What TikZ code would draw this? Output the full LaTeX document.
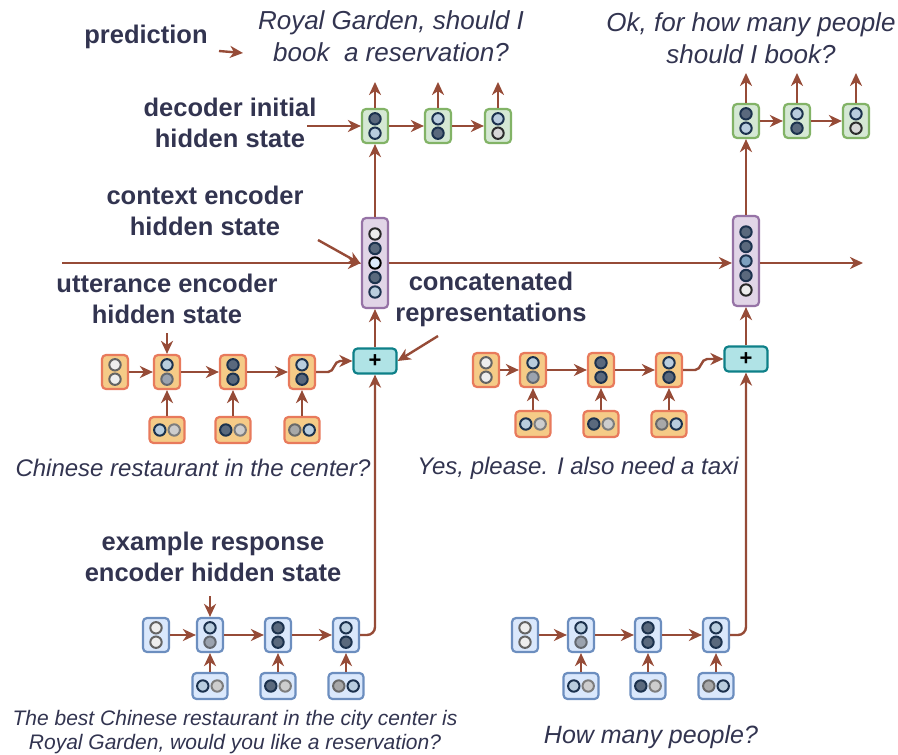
\documentclass[tikz,border=0pt]{standalone}
\usepackage{fontspec}
\setmainfont{Liberation Sans}
\usetikzlibrary{arrows.meta}

\definecolor{txt}{RGB}{50,52,80}
\definecolor{arrc}{RGB}{150,75,55}
\definecolor{gfill}{RGB}{213,232,212}\definecolor{gdraw}{RGB}{130,179,102}
\definecolor{ofill}{RGB}{245,203,135}\definecolor{odraw}{RGB}{232,122,92}
\definecolor{bfill}{RGB}{218,232,252}\definecolor{bdraw}{RGB}{108,142,191}
\definecolor{pfill}{RGB}{225,213,231}\definecolor{pdraw}{RGB}{150,115,166}
\definecolor{tfill}{RGB}{176,227,230}\definecolor{tdraw}{RGB}{14,128,136}
\definecolor{navy}{RGB}{28,50,78}

\tikzset{
  cellbase/.style={draw, line width=2.2pt, rounded corners=4pt, inner sep=0pt},
  vc/.style={cellbase, minimum width=26pt, minimum height=34pt},
  hc/.style={cellbase, minimum width=35pt, minimum height=26pt},
  green/.style={fill=gfill, draw=gdraw},
  orange/.style={fill=ofill, draw=odraw},
  blue/.style={fill=bfill, draw=bdraw},
  ctxbox/.style={cellbase, fill=pfill, draw=pdraw, minimum width=26pt, minimum height=90pt},
  plusbox/.style={cellbase, fill=tfill, draw=tdraw, minimum width=43pt, minimum height=25pt,
    font=\fontsize{22}{22}\selectfont\bfseries},
  arr/.style={draw=arrc, line width=2.4pt, -{Stealth[length=13pt,width=12pt,inset=4pt]}},
  lbl/.style={text=txt, align=center, font=\fontsize{25.5}{31}\selectfont\bfseries},
  utt/.style={text=txt, align=center, font=\fontsize{24}{32}\selectfont\itshape},
  unit/.style={line width=2pt},
  % unit colours
  dk/.style={unit, fill={rgb,255:red,90;green,105;blue,125}, draw=navy},
  lb/.style={unit, fill={rgb,255:red,185;green,205;blue,222}, draw=navy},
  md/.style={unit, fill={rgb,255:red,125;green,160;blue,190}, draw=navy},
  gy/.style={unit, fill={rgb,255:red,155;green,163;blue,175}, draw={rgb,255:red,100;green,105;blue,112}},
  gm/.style={unit, fill={rgb,255:red,168;green,168;blue,168}, draw={rgb,255:red,105;green,105;blue,105}},
  wt/.style={unit, fill={rgb,255:red,238;green,238;blue,238}, draw={rgb,255:red,100;green,100;blue,100}},
  lg/.style={unit, fill={rgb,255:red,205;green,205;blue,205}, draw={rgb,255:red,125;green,125;blue,125}},
  wk/.style={unit, fill={rgb,255:red,236;green,236;blue,236}, draw={rgb,255:red,40;green,40;blue,40}},
  gk/.style={unit, fill={rgb,255:red,215;green,215;blue,215}, draw={rgb,255:red,45;green,45;blue,45}},
  pl/.style={unit, fill={rgb,255:red,220;green,234;blue,250}, draw=black},
}

% vertical two-unit cell: name, x, y, cell colour, top unit, bottom unit
\newcommand\vcell[6]{%
  \node[vc,#4] (#1) at (#2,#3) {};
  \draw[#5] ([yshift=7.2pt]#1.center) circle[radius=5.7pt];
  \draw[#6] ([yshift=-7.2pt]#1.center) circle[radius=5.7pt];
}
% horizontal two-unit cell (word input): name, x, y, cell colour, left unit, right unit
\newcommand\hcell[6]{%
  \node[hc,#4] (#1) at (#2,#3) {};
  \draw[#5] ([xshift=-7.2pt]#1.center) circle[radius=5.7pt];
  \draw[#6] ([xshift=7.2pt]#1.center) circle[radius=5.7pt];
}
% context state with five units
\newcommand\ctxcell[8]{%
  \node[ctxbox] (#1) at (#2,#3) {};
  \draw[#4] ([yshift=29pt]#1.center) circle[radius=5.7pt];
  \draw[#5] ([yshift=14.5pt]#1.center) circle[radius=5.7pt];
  \draw[#6] (#1.center) circle[radius=5.7pt];
  \draw[#7] ([yshift=-14.5pt]#1.center) circle[radius=5.7pt];
  \draw[#8] ([yshift=-29pt]#1.center) circle[radius=5.7pt];
}

\begin{document}
\begin{tikzpicture}[x=1pt, y=-1pt]
\useasboundingbox (0,0) rectangle (898,755);

% ---------------- labels ----------------
\node[lbl] (lpred) at (146,37) {prediction};
\node[utt, font=\fontsize{26}{32}\selectfont\itshape] (out1) at (391,36) {Royal Garden, should I\\book\ \ a reservation?};
\node[utt, font=\fontsize{26}{32}\selectfont\itshape] (out2) at (751,38) {Ok, for how many people\\should I book?};
\node[lbl] (ldec) at (230,123) {decoder initial\\hidden state};
\node[lbl] (lctx) at (205,211) {context encoder\\hidden state};
\node[lbl] (lutt) at (167,299) {utterance encoder\\hidden state};
\node[lbl] (lcat) at (491,299) {concatenated\\representations};
\node[lbl] (lex) at (213,557) {example response\\encoder hidden state};
\node[utt] (u1) at (193,468) {Chinese restaurant in the center?};
\node[utt] (u2) at (578,468) {Yes, please. I also need a taxi};
\node[utt, font=\fontsize{21}{24}\selectfont\itshape] (r1) at (235,732)
  {The best Chinese restaurant in the city center is\\Royal Garden, would you like a reservation?};
\node[utt, font=\fontsize{25}{30}\selectfont\itshape] (r2) at (651,737) {How many people?};

% ---------------- decoders ----------------
\vcell{d1}{375}{126}{green}{dk}{lb}
\vcell{d2}{438}{126}{green}{lb}{dk}
\vcell{d3}{498}{126}{green}{lb}{gk}
\vcell{e1}{746}{121}{green}{dk}{lb}
\vcell{e2}{797}{121}{green}{lb}{dk}
\vcell{e3}{856}{121}{green}{lb}{gk}

% ---------------- context encoder ----------------
\ctxcell{p1}{375}{263}{wk}{dk}{pl}{dk}{lb}
\ctxcell{p2}{746}{261}{dk}{dk}{md}{dk}{wk}

% ---------------- concatenation ----------------
\node[plusbox] (s1) at (375,361) {+};
\node[plusbox] (s2) at (746,359) {+};

% ---------------- utterance encoders ----------------
\vcell{o0}{115}{372}{orange}{wt}{wt}
\vcell{o1}{167}{372}{orange}{lb}{gy}
\vcell{o2}{233}{372}{orange}{dk}{dk}
\vcell{o3}{302}{372}{orange}{lb}{dk}
\hcell{i1}{167}{430}{orange}{lb}{lg}
\hcell{i2}{233}{430}{orange}{dk}{lg}
\hcell{i3}{302}{430}{orange}{gm}{lb}

\vcell{q0}{486}{370}{orange}{wt}{wt}
\vcell{q1}{533}{370}{orange}{lb}{gy}
\vcell{q2}{601}{370}{orange}{dk}{dk}
\vcell{q3}{669}{370}{orange}{lb}{dk}
\hcell{k1}{533}{424}{orange}{lb}{lg}
\hcell{k2}{601}{424}{orange}{dk}{lg}
\hcell{k3}{669}{424}{orange}{gm}{lb}

% ---------------- example response encoders ----------------
\vcell{b0}{156}{635}{blue}{wt}{wt}
\vcell{b1}{210}{635}{blue}{lb}{gy}
\vcell{b2}{278}{635}{blue}{dk}{dk}
\vcell{b3}{346}{635}{blue}{lb}{dk}
\hcell{j1}{210}{686}{blue}{lb}{lg}
\hcell{j2}{278}{686}{blue}{dk}{lg}
\hcell{j3}{346}{686}{blue}{gm}{lb}

\vcell{c0}{525}{635}{blue}{wt}{wt}
\vcell{c1}{581}{635}{blue}{lb}{gy}
\vcell{c2}{648}{635}{blue}{dk}{dk}
\vcell{c3}{716}{635}{blue}{lb}{dk}
\hcell{m1}{581}{686}{blue}{lb}{lg}
\hcell{m2}{648}{686}{blue}{dk}{lg}
\hcell{m3}{716}{686}{blue}{gm}{lb}

% ---------------- free ends ----------------
\coordinate (predA) at (219,51);
\coordinate (predB) at (243,53);
\coordinate (decin) at (307,126);
\coordinate (ctxin) at (62,263);
\coordinate (ctxout) at (863,261);
\coordinate (ctxptr) at (318,240);
\coordinate (uttptr) at (167,333);
\coordinate (catptr) at (438,336);
\coordinate (exptr) at (210,596);
\foreach \c/\x/\y in {t1/375/82, t2/438/82, t3/498/82, w1/746/73, w2/797/73, w3/856/73}
  \coordinate (\c) at (\x,\y);

% ---------------- connectors ----------------
\draw[arr] (predA) -- (predB);
\draw[arr] (decin) -- (d1.west);
\draw[arr] (d1) -- (d2);
\draw[arr] (d2) -- (d3);
\draw[arr] (e1) -- (e2);
\draw[arr] (e2) -- (e3);
\draw[arr] (d1.north) -- (t1);
\draw[arr] (d2.north) -- (t2);
\draw[arr] (d3.north) -- (t3);
\draw[arr] (e1.north) -- (w1);
\draw[arr] (e2.north) -- (w2);
\draw[arr] (e3.north) -- (w3);

\draw[arr] (p1.north) -- (d1.south);
\draw[arr] (p2.north) -- (e1.south);
\draw[arr] (ctxin) -- (ctxin -| p1.west);
\draw[arr] (p1.east |- ctxin) -- (p2.west |- ctxin);
\draw[arr] (p2.east |- ctxin) -- (ctxout |- ctxin);
\draw[arr] (ctxptr) -- ([yshift=-1pt]p1.west);

\draw[arr] (s1.north) -- (p1.south);
\draw[arr] (s2.north) -- (p2.south);
\draw[arr] (catptr) -- (s1.east);

\draw[arr] (o0) -- (o1);
\draw[arr] (o1) -- (o2);
\draw[arr] (o2) -- (o3);
\draw[arr] (o3.east) -- ++(12,0) to[out=0,in=180] ++(12,-11) -- (s1.west);
\draw[arr] (i1) -- (o1);
\draw[arr] (i2) -- (o2);
\draw[arr] (i3) -- (o3);
\draw[arr] (uttptr) -- (o1.north);

\draw[arr] (q0) -- (q1);
\draw[arr] (q1) -- (q2);
\draw[arr] (q2) -- (q3);
\draw[arr] (q3.east) -- ++(12,0) to[out=0,in=180] ++(12,-11) -- (s2.west);
\draw[arr] (k1) -- (q1);
\draw[arr] (k2) -- (q2);
\draw[arr] (k3) -- (q3);

\draw[arr] (b0) -- (b1);
\draw[arr] (b1) -- (b2);
\draw[arr] (b2) -- (b3);
\draw[arr] (j1) -- (b1);
\draw[arr] (j2) -- (b2);
\draw[arr] (j3) -- (b3);
\draw[arr] (exptr) -- (b1.north);
\draw[arr, rounded corners=8pt] (b3.east) -| (s1.south);

\draw[arr] (c0) -- (c1);
\draw[arr] (c1) -- (c2);
\draw[arr] (c2) -- (c3);
\draw[arr] (m1) -- (c1);
\draw[arr] (m2) -- (c2);
\draw[arr] (m3) -- (c3);
\draw[arr, rounded corners=8pt] (c3.east) -| (s2.south);
\end{tikzpicture}
\end{document}
